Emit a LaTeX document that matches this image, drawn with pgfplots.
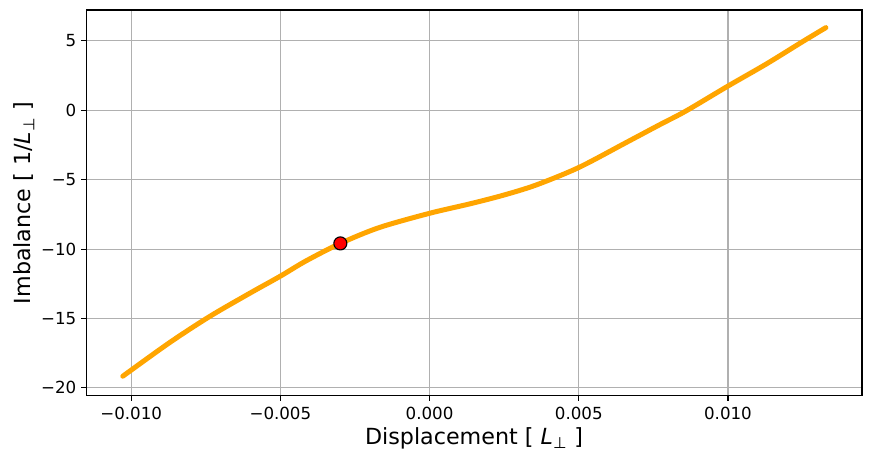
\documentclass[border=0pt]{standalone}
\usepackage{fontspec}
\setmainfont{DejaVu Sans}
\usepackage{pgfplots}
\pgfplotsset{compat=1.18}
\definecolor{gridgray}{HTML}{B0B0B0}
\definecolor{curveorange}{RGB}{255,165,0}
\begin{document}
\begin{tikzpicture}
\begin{axis}[
  name=a,
  scale only axis,
  width=558.7pt, height=277.9pt,
  xmin=-0.01151, xmax=0.01449,
  ymin=-20.58, ymax=7.23,
  scaled ticks=false,
  xtick={-0.01,-0.005,0,0.005,0.01},
  xticklabels={−0.010,−0.005,0.000,0.005,0.010},
  ytick={-20,-15,-10,-5,0,5},
  yticklabels={−20,−15,−10,−5,0,5},
  tick align=outside,
  major tick length=3.5pt,
  tick style={black, line width=0.8pt},
  axis line style={black, line width=0.8pt},
  xtick pos=bottom, ytick pos=left,
  grid=major,
  major grid style={gridgray, line width=0.8pt},
  ticklabel style={font=\fontsize{12}{14}\selectfont},
  xticklabel style={yshift=-1pt},
  label style={font=\fontsize{16}{19}\selectfont},
  xlabel={Displacement [ \textit{L}\textsubscript{⊥} ]},
  ylabel={Imbalance [ 1/\textit{L}\textsubscript{⊥} ]},
  xlabel style={yshift=1pt},
  ylabel style={yshift=-2pt},
]
\addplot[curveorange, line width=3.6pt, line cap=round, line join=round, smooth, tension=0.5] coordinates {
(-0.01028,-19.16)
(-0.00872,-16.75)
(-0.00738,-14.87)
(-0.00604,-13.20)
(-0.00500,-11.95)
(-0.00414,-10.85)
(-0.00299,-9.59)
(-0.00169,-8.45)
(0.00000,-7.42)
(0.00133,-6.75)
(0.00245,-6.13)
(0.00356,-5.39)
(0.00500,-4.12)
(0.00658,-2.33)
(0.00770,-1.05)
(0.00859,-0.05)
(0.01000,1.75)
(0.01127,3.32)
(0.01250,4.95)
(0.01328,5.96)
};
\addplot[only marks, mark=*, mark size=4.7pt, mark options={fill=red, draw=black, line width=0.8pt}] coordinates {(-0.00299,-9.59)};
\end{axis}
\pgfresetboundingbox
\path ([shift={(-62pt,-47.5pt)}]a.south west) rectangle ([shift={(6.5pt,7.2pt)}]a.north east);
\end{tikzpicture}
\end{document}
